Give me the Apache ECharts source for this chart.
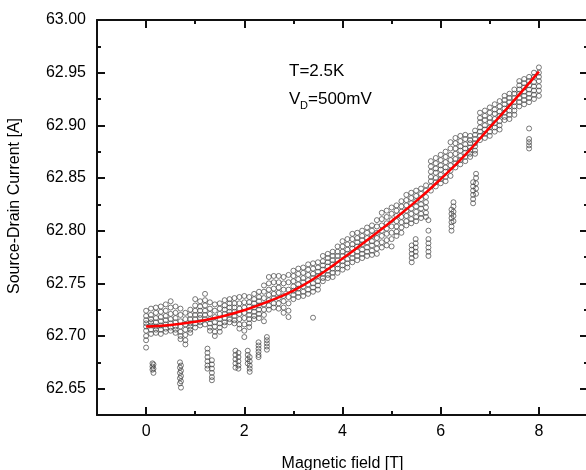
<!DOCTYPE html>
<html>
<head>
<meta charset="utf-8">
<script src="https://cdn.jsdelivr.net/npm/echarts@6/dist/echarts.min.js"></script>
<style>
  html, body { margin: 0; padding: 0; background: #fff; }
  #chart { width: 586px; height: 470px; }
</style>
</head>
<body>
<div id="chart"></div>
<script>
const sweep0to2 = [
  [0.0, [62.724, 62.719, 62.715, 62.712, 62.709, 62.705, 62.700, 62.696, 62.689]],
  [0.1, [62.726, 62.720, 62.716, 62.713, 62.710, 62.706, 62.702]],
  [0.2, [62.727, 62.722, 62.717, 62.713, 62.709, 62.706, 62.703]],
  [0.3, [62.728, 62.723, 62.718, 62.714, 62.710, 62.706, 62.702]],
  [0.4, [62.730, 62.724, 62.719, 62.715, 62.711, 62.707, 62.704]],
  [0.5, [62.733, 62.727, 62.721, 62.716, 62.712, 62.708, 62.705]],
  [0.6, [62.728, 62.722, 62.717, 62.713, 62.709, 62.706, 62.703]],
  [0.7, [62.726, 62.720, 62.714, 62.709, 62.704, 62.700, 62.697]],
  [0.8, [62.722, 62.716, 62.711, 62.706, 62.701, 62.696, 62.692]],
  [0.9, [62.725, 62.720, 62.716, 62.712, 62.709, 62.706, 62.703]],
  [1.0, [62.735, 62.729, 62.724, 62.720, 62.716, 62.712, 62.708]],
  [1.1, [62.733, 62.728, 62.724, 62.720, 62.717, 62.713, 62.710]],
  [1.2, [62.740, 62.734, 62.729, 62.724, 62.720, 62.716, 62.711]],
  [1.3, [62.732, 62.726, 62.721, 62.716, 62.712, 62.708, 62.705]],
  [1.4, [62.730, 62.724, 62.718, 62.713, 62.709, 62.704, 62.700]],
  [1.5, [62.731, 62.726, 62.721, 62.716, 62.712, 62.708, 62.704]],
  [1.6, [62.734, 62.729, 62.725, 62.721, 62.717, 62.713, 62.710]],
  [1.7, [62.735, 62.731, 62.727, 62.723, 62.720, 62.716, 62.713]],
  [1.8, [62.736, 62.731, 62.727, 62.723, 62.719, 62.715, 62.712]],
  [1.9, [62.737, 62.731, 62.726, 62.721, 62.716, 62.711, 62.707]]
];
const sweep2to4 = [
  [2.0, [62.738, 62.732, 62.727, 62.722, 62.717, 62.711, 62.705, 62.699]],
  [2.1, [62.737, 62.732, 62.728, 62.724, 62.720, 62.716, 62.712, 62.7085]],
  [2.2, [62.740, 62.735, 62.731, 62.727, 62.723, 62.719, 62.716]],
  [2.3, [62.742, 62.737, 62.733, 62.729, 62.725, 62.721, 62.717]],
  [2.4, [62.748, 62.742, 62.736, 62.730, 62.725, 62.720, 62.714]],
  [2.5, [62.756, 62.750, 62.744, 62.739, 62.734, 62.729, 62.725]],
  [2.6, [62.757, 62.751, 62.745, 62.740, 62.736, 62.731, 62.727]],
  [2.7, [62.757, 62.751, 62.746, 62.741, 62.736, 62.731, 62.726]],
  [2.8, [62.756, 62.750, 62.744, 62.738, 62.733, 62.727, 62.722]],
  [2.9, [62.758, 62.751, 62.744, 62.737, 62.731, 62.724, 62.718]],
  [3.0, [62.762, 62.757, 62.752, 62.747, 62.743, 62.739, 62.735]],
  [3.1, [62.764, 62.759, 62.754, 62.749, 62.745, 62.741, 62.737]],
  [3.2, [62.765, 62.760, 62.755, 62.751, 62.747, 62.742, 62.738]],
  [3.3, [62.768, 62.763, 62.758, 62.753, 62.749, 62.744, 62.740]],
  [3.4, [62.769, 62.764, 62.759, 62.755, 62.750, 62.746, 62.742, 62.7174]],
  [3.5, [62.770, 62.765, 62.761, 62.757, 62.752, 62.748, 62.744]],
  [3.6, [62.776, 62.771, 62.767, 62.763, 62.759, 62.755, 62.752]],
  [3.7, [62.778, 62.774, 62.770, 62.766, 62.762, 62.758, 62.755]],
  [3.8, [62.780, 62.776, 62.772, 62.768, 62.764, 62.760, 62.756]],
  [3.9, [62.785, 62.780, 62.776, 62.772, 62.768, 62.764, 62.760]]
];
const sweep4to6 = [
  [4.0, [62.790, 62.785, 62.780, 62.776, 62.771, 62.767, 62.763]],
  [4.1, [62.792, 62.787, 62.782, 62.778, 62.773, 62.769, 62.765]],
  [4.2, [62.797, 62.792, 62.787, 62.783, 62.778, 62.774, 62.770]],
  [4.3, [62.798, 62.793, 62.789, 62.785, 62.780, 62.776, 62.772]],
  [4.4, [62.800, 62.795, 62.791, 62.787, 62.782, 62.778, 62.774]],
  [4.5, [62.803, 62.798, 62.793, 62.789, 62.784, 62.780, 62.776]],
  [4.6, [62.805, 62.800, 62.795, 62.790, 62.786, 62.781, 62.777]],
  [4.7, [62.810, 62.804, 62.798, 62.793, 62.788, 62.783, 62.778]],
  [4.8, [62.817, 62.811, 62.805, 62.800, 62.795, 62.789, 62.784]],
  [4.9, [62.819, 62.813, 62.807, 62.802, 62.797, 62.791, 62.786]],
  [5.0, [62.822, 62.816, 62.810, 62.804, 62.798, 62.792, 62.785]],
  [5.1, [62.824, 62.819, 62.814, 62.809, 62.804, 62.799, 62.795]],
  [5.2, [62.828, 62.823, 62.818, 62.813, 62.808, 62.803, 62.798]],
  [5.3, [62.834, 62.829, 62.824, 62.819, 62.814, 62.809, 62.805]],
  [5.4, [62.836, 62.831, 62.826, 62.821, 62.816, 62.811, 62.807]],
  [5.5, [62.838, 62.833, 62.828, 62.823, 62.818, 62.813, 62.809]],
  [5.6, [62.840, 62.835, 62.830, 62.825, 62.821, 62.816, 62.812]],
  [5.7, [62.843, 62.838, 62.832, 62.827, 62.822, 62.817, 62.813]],
  [5.8, [62.866, 62.861, 62.856, 62.851, 62.847, 62.842, 62.838]],
  [5.9, [62.869, 62.864, 62.859, 62.855, 62.850, 62.846, 62.842]]
];
const sweep6to8 = [
  [6.0, [62.872, 62.867, 62.862, 62.858, 62.853, 62.849, 62.845]],
  [6.1, [62.875, 62.870, 62.865, 62.860, 62.856, 62.851, 62.847]],
  [6.2, [62.884, 62.878, 62.872, 62.867, 62.862, 62.857, 62.852]],
  [6.3, [62.888, 62.883, 62.878, 62.873, 62.868, 62.864, 62.860]],
  [6.4, [62.890, 62.885, 62.880, 62.876, 62.871, 62.867, 62.863]],
  [6.5, [62.891, 62.887, 62.882, 62.878, 62.874, 62.870, 62.866]],
  [6.6, [62.890, 62.886, 62.883, 62.879, 62.876, 62.873, 62.870]],
  [6.7, [62.895, 62.891, 62.887, 62.883, 62.880, 62.876, 62.873]],
  [6.8, [62.912, 62.907, 62.903, 62.898, 62.894, 62.890, 62.886]],
  [6.9, [62.914, 62.909, 62.905, 62.900, 62.896, 62.892, 62.888]],
  [7.0, [62.917, 62.912, 62.907, 62.903, 62.898, 62.894, 62.890]],
  [7.1, [62.920, 62.915, 62.911, 62.906, 62.902, 62.898, 62.894]],
  [7.2, [62.923, 62.918, 62.913, 62.909, 62.904, 62.900, 62.896]],
  [7.3, [62.928, 62.924, 62.920, 62.916, 62.912, 62.908, 62.905]],
  [7.4, [62.930, 62.926, 62.922, 62.918, 62.914, 62.910, 62.906]],
  [7.5, [62.934, 62.930, 62.926, 62.922, 62.918, 62.914, 62.910]],
  [7.6, [62.942, 62.938, 62.934, 62.930, 62.926, 62.922, 62.918]],
  [7.7, [62.944, 62.940, 62.936, 62.932, 62.928, 62.924, 62.920]],
  [7.8, [62.946, 62.942, 62.938, 62.934, 62.930, 62.926, 62.922]],
  [7.9, [62.950, 62.946, 62.941, 62.937, 62.933, 62.929, 62.925]],
  [8.0, [62.955, 62.950, 62.946, 62.942, 62.937, 62.933, 62.928]]
];

// the dropout streaks below the main band
const dropouts = [
  [0.13, [62.674, 62.671, 62.668]], [0.15, [62.673, 62.669, 62.665]],
  [0.69, [62.675, 62.670, 62.665, 62.660, 62.655]], [0.71, [62.672, 62.667, 62.662, 62.657, 62.651]],
  [1.25, [62.688, 62.684, 62.680, 62.676, 62.672, 62.669]],
  [1.34, [62.677, 62.673, 62.669, 62.665, 62.661, 62.658]],
  [1.82, [62.686, 62.682, 62.678, 62.674, 62.670]], [1.88, [62.684, 62.680, 62.676, 62.672, 62.669]],
  [2.07, [62.686, 62.682, 62.678, 62.674]], [2.11, [62.680, 62.676, 62.672, 62.669, 62.666]],
  [2.29, [62.694, 62.691, 62.688, 62.685, 62.682, 62.680]],
  [2.46, [62.699, 62.696, 62.693, 62.690, 62.687]],
  [5.41, [62.786, 62.782, 62.778, 62.774, 62.770]], [5.49, [62.792, 62.788, 62.784, 62.780, 62.776]],
  [5.75, [62.810, 62.800, 62.792, 62.788, 62.784, 62.780, 62.776]],
  [6.22, [62.820, 62.816, 62.812, 62.808, 62.804, 62.800]], [6.26, [62.827, 62.823, 62.818, 62.814, 62.809]],
  [6.66, [62.846, 62.842, 62.838, 62.834, 62.830, 62.826]], [6.72, [62.854, 62.850, 62.845, 62.840, 62.835]],
  [7.80, [62.897, 62.887, 62.884, 62.881, 62.878]]
];

// red polynomial fit
const fitX = [0, 0.5, 1, 1.5, 2, 2.5, 3, 3.5, 4, 4.5, 5, 5.5, 6, 6.5, 7, 7.5, 8];
const fitY = [62.709, 62.7105, 62.7135, 62.718, 62.7245, 62.733, 62.743, 62.757, 62.7735,
  62.791, 62.809, 62.828, 62.849, 62.872, 62.898, 62.924, 62.951];

const xMajor = [0, 2, 4, 6, 8];
const xMinor = [1, 3, 5, 7];
const yMajor = [62.65, 62.70, 62.75, 62.80, 62.85, 62.90, 62.95, 63.00];
const yMinor = [62.675, 62.725, 62.775, 62.825, 62.875, 62.925, 62.975];

const chart = echarts.init(document.getElementById("chart"), null, { renderer: "canvas" });

const points = [];
[sweep0to2, sweep2to4, sweep4to6, sweep6to8, dropouts].forEach((block) => {
  block.forEach(([x, ys]) => ys.forEach((y) => points.push([x, y])));
});

const font = "Arial";
const axisColor = "#111";

function tickAxis(position, values, len, withLine, withLabel, extra) {
  const isX = position === "bottom" || position === "top";
  const ax = {
    type: "value",
    position: position,
    min: isX ? -1 : 62.625,
    max: isX ? 9 : 63.0,
    splitLine: { show: false },
    axisLine: { show: withLine, onZero: false, lineStyle: { color: axisColor, width: 2 } },
    axisTick: {
      show: true, inside: true, length: len, customValues: values,
      lineStyle: { color: axisColor, width: 2 }
    },
    axisLabel: withLabel
      ? {
          show: true, customValues: values, color: "#000", fontSize: 16, fontFamily: font,
          margin: isX ? 9 : 11,
          formatter: (v) => (isX ? String(v) : v.toFixed(2))
        }
      : { show: false }
  };
  return Object.assign(ax, extra || {});
}

const option = {
  animation: false,
  backgroundColor: "#fff",
  grid: { left: 97, top: 20, right: -2, bottom: 55, containLabel: false, outerBoundsMode: "none" },
  xAxis: [
    tickAxis("bottom", xMajor, 8, true, true, {
      name: "Magnetic field [T]",
      nameLocation: "middle",
      nameGap: 41,
      nameTextStyle: { color: "#000", fontSize: 16, fontFamily: font }
    }),
    tickAxis("bottom", xMinor, 4, false, false),
    tickAxis("top", xMajor, 8, true, false),
    tickAxis("top", xMinor, 4, false, false)
  ],
  yAxis: [
    tickAxis("left", yMajor, 8, true, true),
    tickAxis("left", yMinor, 4, false, false),
    // right frame edge sits just outside the canvas, only its ticks show
    tickAxis("right", yMajor, 8, false, false),
    tickAxis("right", yMinor, 4, false, false)
  ],
  graphic: [
    {
      type: "text", x: 15, y: 206, rotation: Math.PI / 2,
      style: {
        text: "Source-Drain Current [A]", font: "16px Arial", fill: "#000",
        align: "center", verticalAlign: "middle"
      }
    },
    { type: "text", left: 289, top: 63, style: { text: "T=2.5K", font: "17px Arial", fill: "#000" } },
    { type: "text", left: 289, top: 91, style: { text: "V", font: "17px Arial", fill: "#000" } },
    { type: "text", left: 300, top: 100, style: { text: "D", font: "11px Arial", fill: "#000" } },
    { type: "text", left: 308, top: 91, style: { text: "=500mV", font: "17px Arial", fill: "#000" } }
  ],
  series: [
    {
      name: "data",
      type: "scatter",
      data: points,
      symbol: "circle",
      symbolSize: 5,
      itemStyle: { color: "rgba(255,255,255,0)", borderColor: "#444", borderWidth: 0.9 },
      z: 2
    },
    {
      name: "fit",
      type: "line",
      data: fitX.map((x, i) => [x, fitY[i]]),
      smooth: true,
      showSymbol: false,
      lineStyle: { color: "#ff0000", width: 2.5 },
      z: 5
    }
  ]
};

chart.setOption(option);
</script>
</body>
</html>
